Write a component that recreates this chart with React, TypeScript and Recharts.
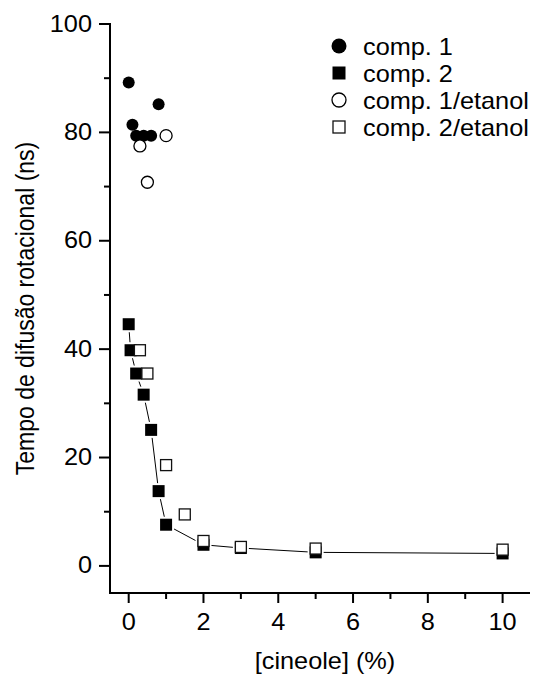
import React from 'react';
import { ScatterChart, Scatter, XAxis, YAxis, Label, Legend } from 'recharts';

// concentration of cineole (%) and rotational diffusion time (ns)
const comp1X = [0, 0.1, 0.2, 0.4, 0.6, 0.8];
const comp1Y = [89.2, 81.4, 79.4, 79.4, 79.4, 85.2];

const comp2X = [0, 0.05, 0.2, 0.4, 0.6, 0.8, 1, 2, 3, 5, 10];
const comp2Y = [44.6, 39.8, 35.5, 31.6, 25.1, 13.8, 7.6, 3.9, 3.3, 2.5, 2.3];

const comp1EtX = [0.3, 0.5, 1];
const comp1EtY = [77.5, 70.8, 79.4];

const comp2EtX = [0.3, 0.5, 1, 1.5, 2, 3, 5, 10];
const comp2EtY = [39.8, 35.5, 18.6, 9.5, 4.6, 3.5, 3.2, 3.0];

const seriesNames = ['comp. 1', 'comp. 2', 'comp. 1/etanol', 'comp. 2/etanol'];

const xTicks = [0, 1, 2, 3, 4, 5, 6, 7, 8, 9, 10];
const yTicks = [0, 10, 20, 30, 40, 50, 60, 70, 80, 90, 100];

const xTitle = '[cineole] (%)';
const yTitle = 'Tempo de difusão rotacional (ns)';

const toPoints = (xs: number[], ys: number[]) => xs.map((x, i) => ({ x, y: ys[i] }));

const comp1 = toPoints(comp1X, comp1Y);
const comp2 = toPoints(comp2X, comp2Y);
const comp1Et = toPoints(comp1EtX, comp1EtY);
const comp2Et = toPoints(comp2EtX, comp2EtY);

const FONT = '"Liberation Sans", Arial, Helvetica, sans-serif';
const FS = 23;
const STRETCH = 1.1;

function SText({ x, y, anchor = 'start', rotate = 0, children }: any) {
  const tf = `translate(${x} ${y}) scale(${STRETCH} 1)` + (rotate ? ` rotate(${rotate})` : '');
  return (
    <text transform={tf} x={0} y={0} textAnchor={anchor} fontFamily={FONT} fontSize={FS} fill="#000">
      {children}
    </text>
  );
}

function YTick({ x, y, payload }: any) {
  const major = payload.value % 20 === 0;
  return (
    <g>
      <line x1={x} x2={x - (major ? 11 : 6)} y1={y} y2={y} stroke="#000" strokeWidth={2} />
      {major && (
        <SText x={x - 18} y={y + 7.5} anchor="end">
          {payload.value}
        </SText>
      )}
    </g>
  );
}

function XTick({ x, y, payload }: any) {
  const major = payload.value % 2 === 0;
  return (
    <g>
      <line x1={x} x2={x} y1={y} y2={y + (major ? 10 : 6)} stroke="#000" strokeWidth={2} />
      {major && (
        <SText x={x} y={y + 37} anchor="middle">
          {payload.value}
        </SText>
      )}
    </g>
  );
}

function TopTick({ x, y }: any) {
  return <line x1={x} x2={x} y1={y} y2={y + 3} stroke="#000" strokeWidth={1.5} />;
}

const FilledCircle = ({ cx, cy, r = 6 }: any) => <circle cx={cx} cy={cy} r={r} fill="#000" />;
const FilledSquare = ({ cx, cy, s = 14 }: any) => (
  <rect x={cx - s / 2} y={cy - s / 2} width={s} height={s} fill="#000" stroke="#fff" strokeWidth={2} />
);
const OpenCircle = ({ cx, cy, r = 6 }: any) => (
  <circle cx={cx} cy={cy} r={r} fill="#fff" stroke="#000" strokeWidth={1.3} />
);
const OpenSquare = ({ cx, cy, s = 11 }: any) => (
  <rect x={cx - s / 2} y={cy - s / 2} width={s} height={s} fill="#fff" stroke="#111" strokeWidth={1.3} />
);

function LegendBox() {
  const rows = [
    (cy: number) => <FilledCircle cx={19} cy={cy} r={7.5} />,
    (cy: number) => <rect x={12.5} y={cy - 6.5} width={13} height={13} fill="#000" />,
    (cy: number) => <OpenCircle cx={19} cy={cy} r={7} />,
    (cy: number) => <OpenSquare cx={19} cy={cy} s={12} />,
  ];
  return (
    <svg width={220} height={120}>
      {seriesNames.map((name, i) => {
        const cy = 18 + i * 27;
        return (
          <g key={name}>
            {rows[i](cy)}
            <SText x={43} y={cy + 8.5}>
              {name}
            </SText>
          </g>
        );
      })}
    </svg>
  );
}

const axisLine = { stroke: '#000', strokeWidth: 2, strokeLinecap: 'square' as const };

export default function App() {
  return (
    <div style={{ width: 530, overflow: 'hidden' }}>
      <ScatterChart width={532} height={667} margin={{ top: 16, right: 0, bottom: 0, left: 0 }}>
        <XAxis
          xAxisId="top"
          orientation="top"
          type="number"
          dataKey="x"
          domain={[-0.5, 11]}
          ticks={xTicks}
          interval={0}
          height={0}
          tickSize={0}
          tickMargin={0}
          tickLine={false}
          tick={<TopTick />}
          axisLine={{ stroke: '#000', strokeWidth: 1.5 }}
        />
        <XAxis
          type="number"
          dataKey="x"
          domain={[-0.5, 11]}
          allowDataOverflow
          ticks={xTicks}
          interval={0}
          height={82}
          tickSize={0}
          tickMargin={0}
          tickLine={false}
          tick={<XTick />}
          axisLine={axisLine}
        >
          <Label
            content={({ viewBox }: any) => (
              <SText x={viewBox.x + viewBox.width / 2} y={viewBox.y + 76} anchor="middle">
                {xTitle}
              </SText>
            )}
          />
        </XAxis>
        <YAxis
          type="number"
          dataKey="y"
          domain={[-5, 100]}
          allowDataOverflow
          ticks={yTicks}
          interval={0}
          width={102}
          tickSize={0}
          tickMargin={0}
          tickLine={false}
          tick={<YTick />}
          axisLine={axisLine}
        >
          <Label
            content={({ viewBox }: any) => (
              <text
                transform={`translate(17 ${viewBox.y + viewBox.height / 2}) scale(${STRETCH} 1) rotate(-90)`}
                textAnchor="middle"
                dominantBaseline="central"
                fontFamily={FONT}
                fontSize={FS}
                fill="#000"
              >
                {yTitle}
              </text>
            )}
          />
        </YAxis>
        <Legend
          layout="vertical"
          align="center"
          verticalAlign="middle"
          content={() => <LegendBox />}
          wrapperStyle={{ position: 'absolute', left: 312, top: 20, width: 220, height: 120 }}
        />
        <Scatter
          name={seriesNames[1]}
          data={comp2}
          line={{ stroke: '#000', strokeWidth: 1 }}
          lineType="joint"
          shape={<FilledSquare />}
          isAnimationActive={false}
        />
        <Scatter name={seriesNames[0]} data={comp1} shape={<FilledCircle />} isAnimationActive={false} />
        <Scatter name={seriesNames[2]} data={comp1Et} shape={<OpenCircle />} isAnimationActive={false} />
        <Scatter name={seriesNames[3]} data={comp2Et} shape={<OpenSquare />} isAnimationActive={false} />
      </ScatterChart>
    </div>
  );
}
